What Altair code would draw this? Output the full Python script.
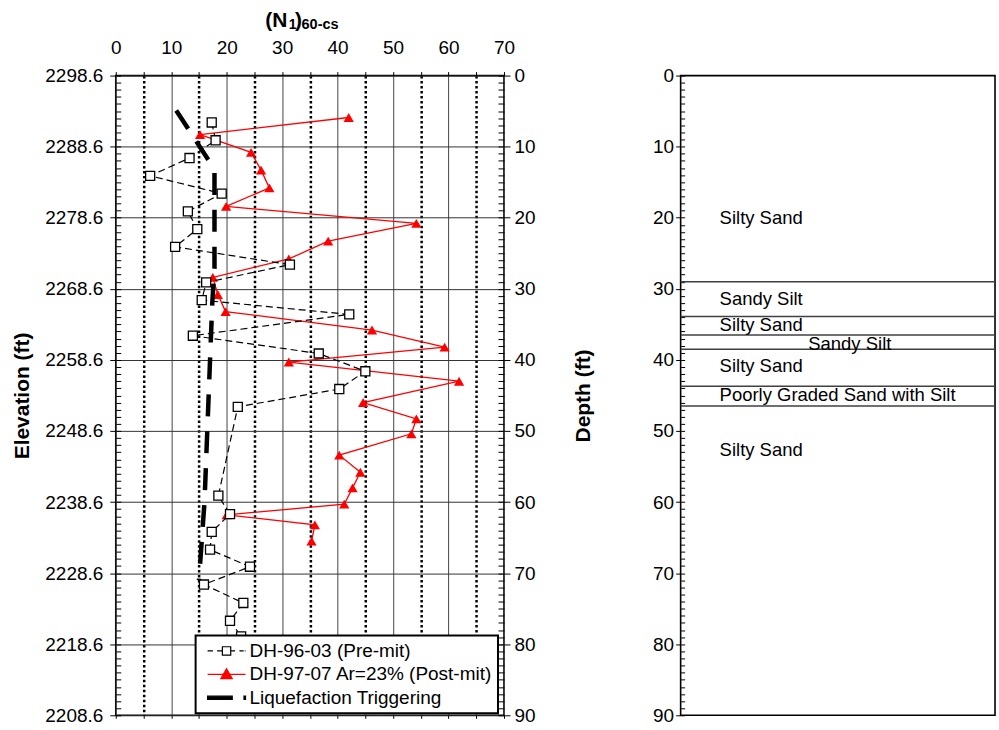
import altair as alt
import pandas as pd

FONT = "Liberation Sans"

# Ground surface elevation (ft) used for the elevation axis
GROUND_ELEV = 2298.6

# DH-96-03 (pre-mitigation): depth (ft) and (N1)60-cs
pre_depth = [6.6, 9.1, 11.6, 14.1, 16.6, 19.1, 21.6, 24.1, 26.6, 29.1, 31.6, 33.6, 36.6,
             39.1, 41.6, 44.1, 46.6, 59.1, 61.7, 64.2, 66.7, 69.1, 71.6, 74.2, 76.7, 78.9]
pre_n = [17.3, 18.0, 13.3, 6.2, 19.1, 13.0, 14.7, 10.7, 31.4, 16.3, 15.5, 42.1, 13.9,
         36.6, 45.0, 40.3, 22.0, 18.5, 20.6, 17.3, 17.0, 24.2, 15.9, 23.0, 20.6, 22.6]

# DH-97-07 Ar=23% (post-mitigation)
post_depth = [5.9, 8.3, 10.8, 13.3, 15.8, 18.4, 20.8, 23.3, 25.8, 28.4, 30.8, 33.2, 35.8,
              38.2, 40.3, 43.0, 46.0, 48.3, 50.4, 53.4, 55.8, 58.0, 60.3, 61.8, 63.2, 65.5]
post_n = [42.0, 15.2, 24.4, 26.2, 27.7, 19.9, 54.2, 38.3, 31.2, 17.5, 18.4, 19.8, 46.2,
          59.3, 31.2, 61.9, 44.6, 54.2, 53.3, 40.3, 44.1, 42.7, 41.2, 20.0, 35.9, 35.3]

# Liquefaction triggering curve
trig_depth = [4.9, 13.2, 27.0, 32.0, 42.0, 52.0, 60.0, 71.0]
trig_n = [10.9, 17.8, 17.8, 17.4, 16.9, 16.4, 16.0, 15.0]

series_names = ["DH-96-03 (Pre-mit)", "DH-97-07 Ar=23% (Post-mit)", "Liquefaction Triggering"]

# Soil log
layer_tops = [29.0, 33.9, 36.5, 38.5, 43.7, 46.5]
soil_names = ["Silty Sand", "Sandy Silt", "Silty Sand", "Sandy Silt", "Silty Sand",
              "Poorly Graded Sand with Silt", "Silty Sand"]
soil_label_depth = [20.0, 31.4, 35.1, 37.8, 40.8, 45.0, 52.7]

# ---------------------------------------------------------------- frames
W1, H = 389, 641
W2 = 315

xs = alt.Scale(domain=[0, 70], nice=False, zero=False)
ys = alt.Scale(domain=[0, 90], reverse=True, nice=False, zero=False)
xs_log = alt.Scale(domain=[0, 1], nice=False, zero=False)

major_x = list(range(0, 71, 10))
mid_x = list(range(5, 70, 10))
fives_x = list(range(0, 71, 5))
major_y = list(range(0, 91, 10))
minor_y = list(range(0, 91))

ax_top = alt.Axis(orient="top", values=major_x, title=None, domain=False, grid=True,
                  gridColor="#444444", gridWidth=1, tickSize=4, labelFontSize=19,
                  labelPadding=18, labelBaseline="alphabetic", labelFlush=False,
                  labelOverlap=False)
ax_top_mid = alt.Axis(orient="top", values=mid_x, title=None, labels=False, domain=False,
                      grid=True, gridColor="black", gridWidth=2.5, gridDash=[2.5, 2.5],
                      tickSize=4)
ax_bottom = alt.Axis(orient="bottom", values=fives_x, title=None, labels=False,
                     domain=False, grid=False, tickSize=3)

ay_left = alt.Axis(orient="left", values=major_y,
                   labelExpr=f"format({GROUND_ELEV} - datum.value, '.1f')",
                   title="Elevation (ft)", titleFontSize=21, titleFontWeight="bold",
                   titlePadding=12, domain=False, grid=True, gridColor="#333333",
                   gridWidth=1, tickSize=6, labelPadding=7, labelFontSize=19,
                   labelOverlap=False, labelFlush=False)
ay_left_minor = alt.Axis(orient="left", values=minor_y, labels=False, title=None,
                         domain=False, grid=False, tickSize=5, offset=-5)
ay_right = alt.Axis(orient="right", values=major_y, title="Depth (ft)", titleFontSize=21,
                    titleFontWeight="bold", titleAngle=270, titleBaseline="top",
                    titlePadding=38, domain=False, grid=False, tickSize=6, labelPadding=4,
                    labelFontSize=19, labelOverlap=False, labelFlush=False)
ay_right_minor = alt.Axis(orient="right", values=minor_y, labels=False, title=None,
                          domain=False, grid=False, tickSize=6, offset=-6)

pre_df = pd.DataFrame({"n": pre_n, "depth": pre_depth})
post_df = pd.DataFrame({"n": post_n, "depth": post_depth})
trig_df = pd.DataFrame({"n": trig_n, "depth": trig_depth})

post_line = alt.Chart(post_df).mark_line(color="red", strokeWidth=1.3).encode(
    x=alt.X("n:Q", scale=xs, axis=ax_top),
    y=alt.Y("depth:Q", scale=ys, axis=ay_left),
    order="depth:Q",
)
post_pts = alt.Chart(post_df).mark_point(
    shape="triangle-up", filled=True, color="red", size=105, opacity=1
).encode(
    x=alt.X("n:Q", scale=xs, axis=ax_top_mid),
    y=alt.Y("depth:Q", scale=ys, axis=ay_left_minor),
)
pre_line = alt.Chart(pre_df).mark_line(color="black", strokeWidth=1.2, strokeDash=[7, 4]).encode(
    x=alt.X("n:Q", scale=xs, axis=ax_bottom),
    y=alt.Y("depth:Q", scale=ys, axis=ay_right),
    order="depth:Q",
)
pre_pts = alt.Chart(pre_df).mark_point(
    shape="square", filled=True, fill="white", stroke="black", strokeWidth=1.3,
    size=82, opacity=1
).encode(
    x=alt.X("n:Q", scale=xs, axis=None),
    y=alt.Y("depth:Q", scale=ys, axis=ay_right_minor),
)
trig_line = alt.Chart(trig_df).mark_line(
    color="black", strokeWidth=4.5, strokeDash=[22, 15], strokeCap="butt"
).encode(
    x=alt.X("n:Q", scale=xs, axis=None),
    y=alt.Y("depth:Q", scale=ys, axis=None),
    order="depth:Q",
)

# Legend symbols: line + marker glyphs drawn as paths in unit coordinates
legend_paths = [
    "M-1,0H-0.72M-0.5,0H-0.24M-0.22,-0.22H0.22V0.22H-0.22ZM0.22,0H0.45M0.68,0H0.9M0.96,0H1",
    "M-1,0H1M0,-0.3L0.3,0.22L-0.3,0.22Z",
    "M-1,-0.085H0.3V0.085H-1ZM0.92,-0.085H1V0.085H0.92Z",
]
leg = alt.Legend(orient="none", legendX=80, legendY=561, title=None, padding=5,
                 symbolOffset=6, labelOffset=3, clipHeight=21, rowPadding=2.5,
                 fillColor="white", strokeColor="black", labelFontSize=19,
                 labelColor="black", symbolStrokeWidth=1.2, symbolSize=1444,
                 labelLimit=400)
legend_layer = alt.Chart(pd.DataFrame({"series": series_names})).mark_point(
    filled=True, size=1444, opacity=1
).encode(
    x=alt.X("n:Q", scale=xs, axis=None),
    y=alt.Y("depth:Q", scale=ys, axis=None),
    shape=alt.Shape("series:N", scale=alt.Scale(domain=series_names, range=legend_paths), legend=leg),
    fill=alt.Fill("series:N", scale=alt.Scale(domain=series_names, range=["white", "red", "black"]), legend=leg),
    stroke=alt.Stroke("series:N", scale=alt.Scale(domain=series_names, range=["black", "red", "black"]), legend=leg),
).transform_filter("false")


def title_piece(text, size, xval, y):
    return alt.Chart(pd.DataFrame({"t": [text]})).mark_text(
        align="left", baseline="alphabetic", font=FONT, fontSize=size,
        fontWeight="bold", color="black"
    ).encode(
        text="t:N",
        x=alt.XDatum(xval, scale=xs, axis=None),
        y=alt.value(y),
    )


# (N1)60-cs axis heading with subscripts
heading = [
    title_piece("(N", 21, 26.95, -49),
    title_piece("1", 14, 31.2, -46.5),
    title_piece(")", 21, 32.3, -49),
    title_piece("60-cs", 14.5, 33.5, -46.5),
]

left = alt.layer(
    post_line, post_pts, pre_line, pre_pts, trig_line, legend_layer, *heading
).resolve_axis(x="independent", y="independent").properties(width=W1, height=H)

# ---------------------------------------------------------------- soil log
ay2 = alt.Axis(orient="left", values=major_y, title=None, domain=False, grid=False,
               tickSize=5, labelPadding=2, labelFontSize=19, labelOverlap=False,
               labelFlush=False)
ay2_minor = alt.Axis(orient="left", values=minor_y, labels=False, title=None,
                     domain=False, grid=False, tickSize=4, offset=-4)

bound_df = pd.DataFrame({"depth": layer_tops})
soil_df = pd.DataFrame({"row": list(range(len(soil_names))), "name": soil_names,
                        "depth": soil_label_depth})

rules = alt.Chart(bound_df).mark_rule(color="#404040", strokeWidth=1.5).encode(
    y=alt.Y("depth:Q", scale=ys, axis=ay2),
    x=alt.XDatum(0, scale=xs_log, axis=None),
    x2=alt.X2Datum(1),
)
soil_text = alt.Chart(soil_df).mark_text(
    align="left", baseline="middle", font=FONT, fontSize=18.5, color="black"
).encode(
    y=alt.Y("depth:Q", scale=ys, axis=ay2_minor),
    x=alt.XDatum(0.124, scale=xs_log, axis=None),
    text="name:N",
).transform_filter("datum.row != 3")
soil_text_shift = alt.Chart(soil_df).mark_text(
    align="left", baseline="middle", font=FONT, fontSize=18.5, color="black"
).encode(
    y=alt.Y("depth:Q", scale=ys, axis=None),
    x=alt.XDatum(0.406, scale=xs_log, axis=None),
    text="name:N",
).transform_filter("datum.row == 3")

right = alt.layer(rules, soil_text, soil_text_shift).resolve_axis(
    y="independent"
).properties(width=W2, height=H)

chart = alt.hconcat(left, right, spacing=177, bounds="flush").properties(
    padding={"left": 11, "top": 8, "right": 2, "bottom": 2}
).configure_view(
    stroke="black", strokeWidth=1.6
).configure_axis(
    labelFont=FONT, titleFont=FONT, labelColor="black", titleColor="black",
    tickColor="black", tickWidth=1
).configure_legend(
    labelFont=FONT, strokeWidth=2
)

chart.save("out.html", embed_options={"renderer": "svg", "actions": False})
